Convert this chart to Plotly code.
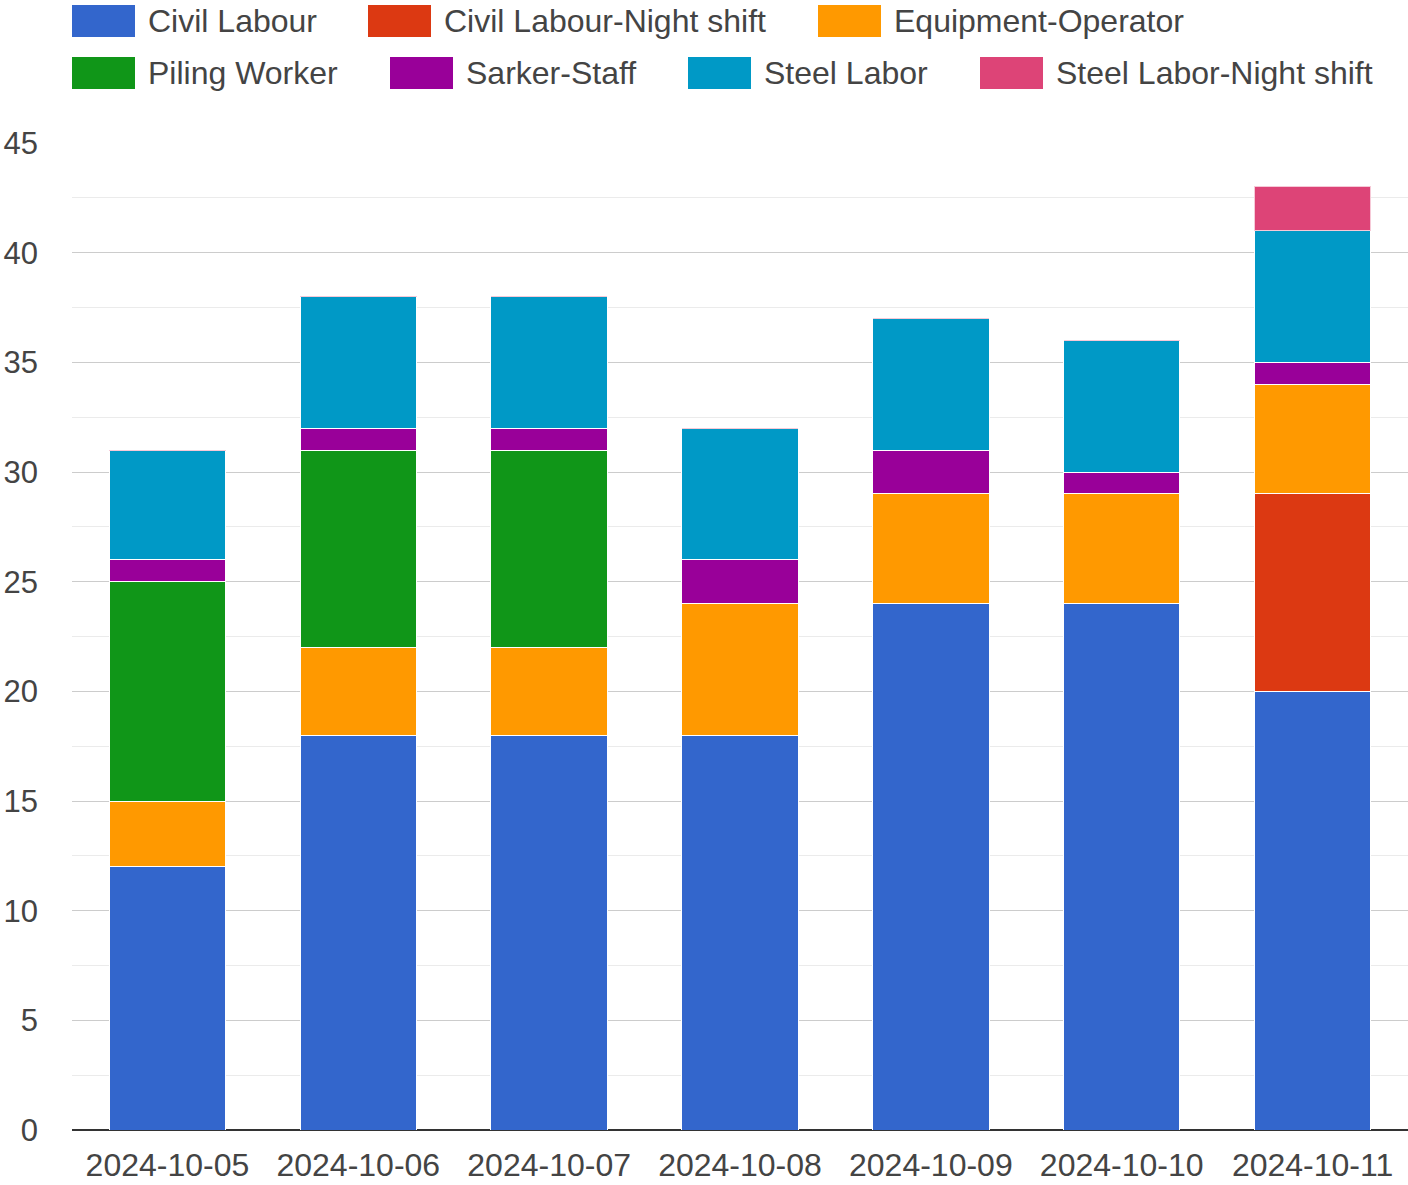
import plotly.graph_objects as go

dates = ["2024-10-05", "2024-10-06", "2024-10-07", "2024-10-08", "2024-10-09", "2024-10-10", "2024-10-11"]
series_names = ["Civil Labour", "Civil Labour-Night shift", "Equipment-Operator", "Piling Worker",
                "Sarker-Staff", "Steel Labor", "Steel Labor-Night shift"]
civil_labour = [12, 18, 18, 18, 24, 24, 20]
civil_night = [0, 0, 0, 0, 0, 0, 9]
equipment_operator = [3, 4, 4, 6, 5, 5, 5]
piling_worker = [10, 9, 9, 0, 0, 0, 0]
sarker_staff = [1, 1, 1, 2, 2, 1, 1]
steel_labor = [5, 6, 6, 6, 6, 6, 6]
steel_night = [0, 0, 0, 0, 0, 0, 2]
colors = ["#3366cc", "#dc3912", "#ff9900", "#109618", "#990099", "#0099c6", "#dd4477"]
y_ticks = [0, 5, 10, 15, 20, 25, 30, 35, 40, 45]

values = [civil_labour, civil_night, equipment_operator, piling_worker, sarker_staff, steel_labor, steel_night]

FONT = "Liberation Sans, Arial, sans-serif"
W, H = 1408, 1185
ML, MR, MT, MB = 72, 0, 143, 55
PW, PH = W - ML - MR, H - MT - MB

fig = go.Figure()
for name, vals, col in zip(series_names, values, colors):
    line_col = "#f6c9d7" if name == "Steel Labor-Night shift" else "white"
    fig.add_trace(go.Bar(
        x=dates, y=vals, name=name,
        marker=dict(color=col, line=dict(color=line_col, width=1)),
        showlegend=False,
    ))

# Manual legend (Google-Charts style wide swatches)
legend_rows = [
    [(0, 72), (1, 368), (2, 818)],
    [(3, 72), (4, 390), (5, 688), (6, 980)],
]
row_centers = [21, 73]
sw_w, sw_h = 63, 32
for r, items in enumerate(legend_rows):
    cy = row_centers[r]
    for idx, px in items:
        fig.add_shape(type="rect", xref="paper", yref="paper",
                      x0=(px - ML) / PW, x1=(px + sw_w - ML) / PW,
                      y0=1 + (MT - (cy + sw_h / 2)) / PH,
                      y1=1 + (MT - (cy - sw_h / 2)) / PH,
                      fillcolor=colors[idx], line=dict(width=0))
        fig.add_annotation(xref="paper", yref="paper",
                           x=(px + sw_w + 11 - ML) / PW,
                           y=1 + (MT - cy) / PH,
                           text=series_names[idx], showarrow=False,
                           xanchor="left", yanchor="middle",
                           font=dict(family=FONT, size=32, color="#444444"))

fig.update_layout(
    width=W, height=H,
    margin=dict(l=ML, r=MR, t=MT, b=MB, pad=0, autoexpand=False),
    barmode="stack",
    bargap=0.39,
    plot_bgcolor="white",
    paper_bgcolor="white",
    font=dict(family=FONT, size=30, color="#444444"),
    xaxis=dict(
        type="category", showgrid=False, showline=False, zeroline=False,
        ticks="", tickfont=dict(size=32, color="#444444"),
        ticklabelstandoff=13, automargin=False,
    ),
    yaxis=dict(
        range=[0, 45], tickvals=y_ticks, ticktext=[str(v) for v in y_ticks],
        showgrid=True, gridcolor="#cccccc", gridwidth=1,
        minor=dict(dtick=2.5, showgrid=True, gridcolor="#ebebeb", gridwidth=1, tick0=0),
        zeroline=True, zerolinecolor="#333333", zerolinewidth=2,
        showline=False, ticks="", tickfont=dict(size=31, color="#444444"),
        ticklabelstandoff=33, automargin=False,
    ),
)

fig.write_html("out.html", config={"displayModeBar": False},
               post_script="document.body.style.margin='0';")
